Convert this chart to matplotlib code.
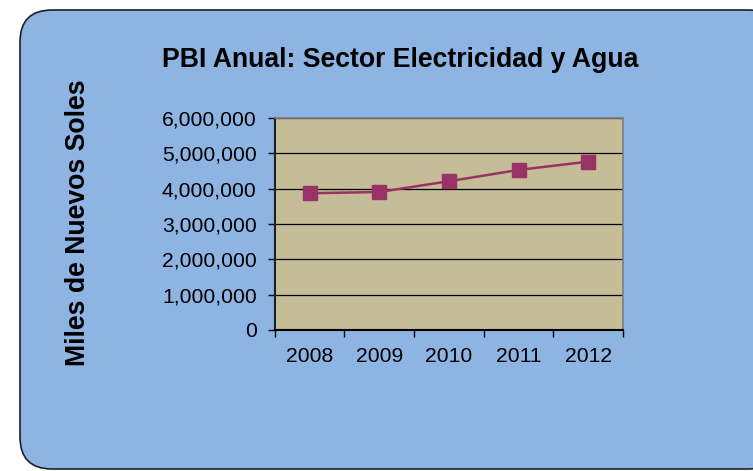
#!/usr/bin/env python3

import matplotlib
matplotlib.use("Agg")
import matplotlib.pyplot as plt
from matplotlib.patches import FancyBboxPatch
from matplotlib.ticker import FuncFormatter

years = ["2008", "2009", "2010", "2011", "2012"]
pbi = [3870000, 3905000, 4210000, 4530000, 4765000]
title = "PBI Anual: Sector Electricidad y Agua"
ylabel = "Miles de Nuevos Soles"


def main():
  plt.rcParams["font.family"] = ["Liberation Sans", "DejaVu Sans"]
  fig = plt.figure(figsize=(7.53, 4.71), dpi=100)
  fig.patch.set_facecolor("white")

  # rounded blue chart frame, cut off on the right like the original
  frame = FancyBboxPatch((0.20, 0.02), 7.6, 4.59,
                         boxstyle="round,pad=0,rounding_size=0.32",
                         transform=fig.dpi_scale_trans,
                         facecolor="#8EB4E3", edgecolor="#202020",
                         linewidth=1.2, zorder=0)
  fig.add_artist(frame)

  ax = fig.add_axes([0.3648, 0.2994, 0.4627, 0.4501])
  ax.set_facecolor("#C4BD97")
  ax.set_zorder(2)

  x = list(range(len(years)))
  ax.plot(x, pbi, color="#993366", linewidth=1.8, marker="s",
          markersize=10.5, markerfacecolor="#993366",
          markeredgecolor="#993366", zorder=3)

  ax.set_ylim(0, 6000000)
  ax.set_yticks(range(0, 6000001, 1000000))
  ax.yaxis.set_major_formatter(FuncFormatter(lambda v, p: "{:,.0f}".format(v)))
  ax.grid(axis="y", color="black", linewidth=0.9)
  ax.set_axisbelow(True)

  ax.set_xlim(-0.5, len(years) - 0.5)
  ax.set_xticks([i - 0.5 for i in range(len(years) + 1)])
  ax.set_xticklabels([])
  ax.set_xticks(x, minor=True)
  ax.set_xticklabels(years, minor=True)
  ax.tick_params(axis="x", which="major", direction="out", length=5,
                 width=1, color="black")
  ax.tick_params(axis="x", which="minor", length=0, pad=12, labelsize=15.2)
  ax.tick_params(axis="y", direction="out", length=5, width=1,
                 color="black", pad=8, labelsize=15.2)

  ax.spines["left"].set_color("#202020")
  ax.spines["bottom"].set_color("black")
  ax.spines["left"].set_linewidth(1.5)
  ax.spines["bottom"].set_linewidth(1.5)
  ax.spines["top"].set_color("#7F7F7F")
  ax.spines["right"].set_color("#7F7F7F")
  ax.spines["top"].set_linewidth(1.2)
  ax.spines["right"].set_linewidth(1.2)

  fig.text(0.5315, 0.872, title, fontsize=19.2, fontweight="bold",
           ha="center", va="center")
  fig.text(0.1036, 0.528, ylabel, fontsize=19.2, fontweight="bold",
           rotation=90, ha="center", va="center")

  fig.savefig("out.png", dpi=100)


if __name__ == "__main__":
  main()
